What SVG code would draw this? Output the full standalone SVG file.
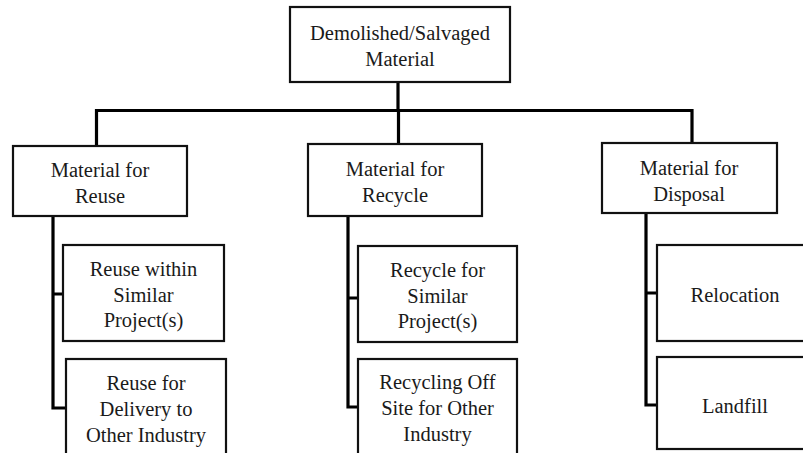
<svg xmlns="http://www.w3.org/2000/svg" width="803" height="453" viewBox="0 0 803 453">
<style>
.box{fill:#fff;stroke:#111;stroke-width:2.2}
.con{fill:none;stroke:#000;stroke-width:3.2;stroke-linejoin:miter}
text{font-family:"Times New Roman","Liberation Serif",Tinos,"Noto Serif","DejaVu Serif",serif;font-size:20.5px;fill:#1a1a1a;text-anchor:middle}
</style>
<rect width="803" height="453" fill="#fff"/>
<g id="connectors">
<path class="con" d="M398 82V110.5M96.5 146V110.5H692V143M398.5 110.5V144"/>
<path class="con" d="M53 216V408H66M53 294H63"/>
<path class="con" d="M348 216V407H358M348 298H358"/>
<path class="con" d="M646 213V405H657M646 293H657"/>
</g>
<g id="root">
<rect class="box" x="290" y="7" width="220" height="75"/>
<text x="400" y="40">Demolished/Salvaged</text>
<text x="400" y="66">Material</text>
</g>
<g id="reuse">
<rect class="box" x="13" y="146" width="174" height="70"/>
<text x="100" y="177">Material for</text>
<text x="100" y="203">Reuse</text>
</g>
<g id="recycle">
<rect class="box" x="308" y="144" width="174" height="72"/>
<text x="395" y="176">Material for</text>
<text x="395" y="202">Recycle</text>
</g>
<g id="disposal">
<rect class="box" x="602" y="143" width="175" height="70"/>
<text x="689" y="175">Material for</text>
<text x="689" y="201">Disposal</text>
</g>
<g id="reuse-similar">
<rect class="box" x="63" y="245" width="161" height="96"/>
<text x="143.5" y="276">Reuse within</text>
<text x="143.5" y="302">Similar</text>
<text x="143.5" y="327">Project(s)</text>
</g>
<g id="reuse-other">
<rect class="box" x="66" y="359" width="160" height="110"/>
<text x="146" y="390">Reuse for</text>
<text x="146" y="416">Delivery to</text>
<text x="146" y="442">Other Industry</text>
</g>
<g id="recycle-similar">
<rect class="box" x="358" y="246" width="159" height="96"/>
<text x="437.5" y="277">Recycle for</text>
<text x="437.5" y="303">Similar</text>
<text x="437.5" y="328">Project(s)</text>
</g>
<g id="recycle-other">
<rect class="box" x="358" y="359" width="159" height="110"/>
<text x="437.5" y="389">Recycling Off</text>
<text x="437.5" y="415">Site for Other</text>
<text x="437.5" y="441">Industry</text>
</g>
<g id="relocation">
<rect class="box" x="657" y="245" width="160" height="96"/>
<text x="735" y="302">Relocation</text>
</g>
<g id="landfill">
<rect class="box" x="657" y="357" width="160" height="92"/>
<text x="735" y="413">Landfill</text>
</g>
</svg>
